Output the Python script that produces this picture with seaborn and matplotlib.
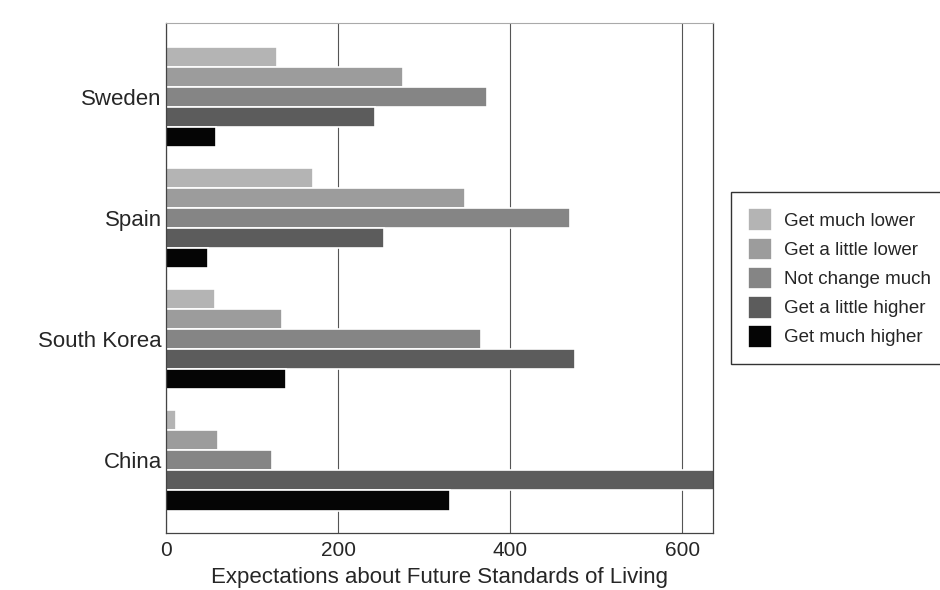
import seaborn as sns
import pandas as pd
import matplotlib.pyplot as plt

countries = ['Sweden', 'Spain', 'South Korea', 'China']
answers = ['Get much lower', 'Get a little lower', 'Not change much',
           'Get a little higher', 'Get much higher']

# counts, one list per answer (same order as countries)
much_lower = [129, 171, 57, 12]
little_lower = [276, 348, 135, 60]
not_change = [373, 470, 366, 123]
little_higher = [243, 254, 476, 640]
much_higher = [58, 49, 139, 330]

grays = ['#b4b4b4', '#9c9c9c', '#858585', '#5c5c5c', '#050505']

series = [much_lower, little_lower, not_change, little_higher, much_higher]
rows = []
for ans, vals in zip(answers, series):
    for c, v in zip(countries, vals):
        rows.append({'country': c, 'answer': ans, 'count': v})
df = pd.DataFrame(rows)

sns.set_style('white')
plt.rcParams['font.family'] = ['Liberation Sans', 'DejaVu Sans']

fig = plt.figure(figsize=(9.4, 5.9), dpi=100)
ax = fig.add_axes([0.1766, 0.0966, 0.582, 0.8644])

sns.barplot(data=df, y='country', x='count', hue='answer',
            order=countries, hue_order=answers, palette=grays,
            orient='h', width=0.83, errorbar=None, saturation=1,
            edgecolor='white', linewidth=1.2, ax=ax)

ax.set_xlim(0, 636)
ax.set_ylim(3.60, -0.61)
ax.set_xticks([0, 200, 400, 600])
ax.xaxis.grid(True, color='#555555', linewidth=0.8)
ax.set_axisbelow(True)
ax.set_ylabel('')
ax.set_xlabel('Expectations about Future Standards of Living', fontsize=16, labelpad=5)
ax.tick_params(axis='x', labelsize=15, length=0, pad=6)
ax.tick_params(axis='y', labelsize=16, length=0, pad=3)
for side in ['left', 'bottom', 'right']:
    ax.spines[side].set_color('#444444')
    ax.spines[side].set_linewidth(0.9)
ax.spines['top'].set_color('#aaaaaa')
ax.spines['top'].set_linewidth(0.8)

leg = ax.legend(loc='center left', bbox_to_anchor=(1.033, 0.50), frameon=True,
                fancybox=False, edgecolor='black', fontsize=13.5, title=None,
                handlelength=1.3, handleheight=1.5, labelspacing=0.33,
                borderpad=0.9, borderaxespad=0, handletextpad=0.6)
leg.get_frame().set_linewidth(1.0)

fig.savefig('out.png', dpi=100)
